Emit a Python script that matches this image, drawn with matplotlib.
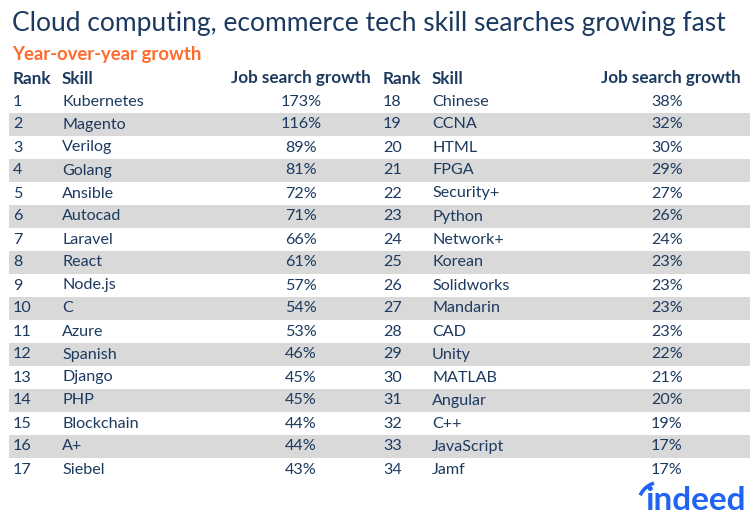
import matplotlib
matplotlib.use("Agg")
import matplotlib.pyplot as plt
from matplotlib.patches import Rectangle, Arc

ranks_left = list(range(1, 18))
skills_left = ["Kubernetes", "Magento", "Verilog", "Golang", "Ansible", "Autocad", "Laravel",
               "React", "Node.js", "C", "Azure", "Spanish", "Django", "PHP", "Blockchain", "A+", "Siebel"]
growth_left = [173, 116, 89, 81, 72, 71, 66, 61, 57, 54, 53, 46, 45, 45, 44, 44, 43]

ranks_right = list(range(18, 35))
skills_right = ["Chinese", "CCNA", "HTML", "FPGA", "Security+", "Python", "Network+", "Korean",
                "Solidworks", "Mandarin", "CAD", "Unity", "MATLAB", "Angular", "C++", "JavaScript", "Jamf"]
growth_right = [38, 32, 30, 29, 27, 26, 24, 23, 23, 23, 23, 22, 21, 20, 19, 17, 17]

headers = ["Rank", "Skill", "Job search growth"]
title = "Cloud computing, ecommerce tech skill searches growing fast"
subtitle = "Year-over-year growth"

NAVY = "#1c3a5f"
ORANGE = "#ff6b2c"
STRIPE = "#d9d9d9"
BLUE = "#2164f3"
FONT = "Lato"

fig = plt.figure(figsize=(7.56, 5.20), dpi=100)
ax = fig.add_axes([0, 0, 1, 1])
ax.set_xlim(0, 756)
ax.set_ylim(520, 0)
ax.axis("off")

ax.text(12, 23, title, fontsize=19, color=NAVY, family=FONT, va="center", ha="left")
ax.text(12, 54.5, subtitle, fontsize=13.3, color=ORANGE, family=FONT, weight="bold", va="center", ha="left")

row0 = 101.5
pitch = 23.0
hdr_y = 78.5

# stripes
for i in range(len(ranks_left)):
    if i % 2 == 1:
        y = row0 + i * pitch
        ax.add_patch(Rectangle((9, y - 11.5), 741, 23, facecolor=STRIPE, edgecolor="none", zorder=0))

for x0, ranks, skills, growth, gx, vx in [(13, ranks_left, skills_left, growth_left, 301, 301),
                                          (383, ranks_right, skills_right, growth_right, 671, 667)]:
    ax.text(x0, hdr_y, headers[0], fontsize=12.3, weight="bold", color=NAVY, family=FONT, va="center")
    ax.text(x0 + 49, hdr_y, headers[1], fontsize=12.3, weight="bold", color=NAVY, family=FONT, va="center")
    ax.text(gx, hdr_y, headers[2], fontsize=12.3, weight="bold", color=NAVY, family=FONT, va="center", ha="center")
    for i, (r, s, g) in enumerate(zip(ranks, skills, growth)):
        y = row0 + i * pitch
        ax.text(x0, y, str(r), fontsize=11.6, color=NAVY, family=FONT, va="center")
        ax.text(x0 + 49, y, s, fontsize=11.6, color=NAVY, family=FONT, va="center")
        ax.text(vx, y, f"{g}%", fontsize=11.6, color=NAVY, family=FONT, va="center", ha="center")

# indeed logo
ax.text(696, 510, "indeed", fontsize=24, weight="bold", color=BLUE, family=FONT, va="baseline", ha="center")
ax.add_patch(Arc((661, 505), 46, 46, theta1=205, theta2=252, color=BLUE, lw=2.6))

fig.savefig("out.png", dpi=100)
